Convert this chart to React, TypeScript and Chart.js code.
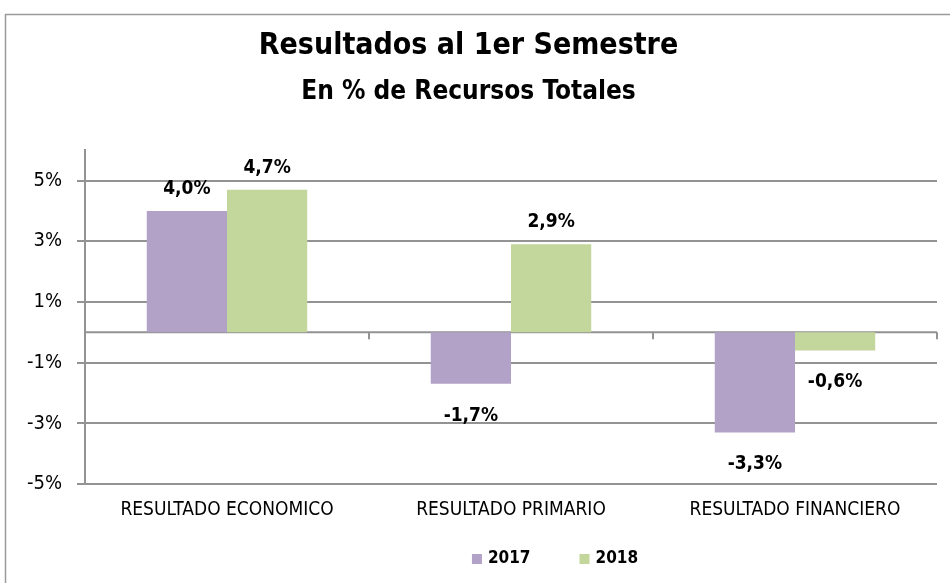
import React, { useEffect, useRef } from "react";
import { Chart, registerables } from "chart.js";

Chart.register(...registerables);

const categories = ["RESULTADO ECONOMICO", "RESULTADO PRIMARIO", "RESULTADO FINANCIERO"];
const seriesNames = ["2017", "2018"];
const values2017 = [4.0, -1.7, -3.3];
const values2018 = [4.7, 2.9, -0.6];
const tickValues = [-5, -3, -1, 1, 3, 5];
const titleText = "Resultados al 1er Semestre";
const subtitleText = "En % de Recursos Totales";

const FONT = "'Liberation Sans Narrow', 'DejaVu Sans Condensed', 'Open Sans', sans-serif";
const COLORS = ["#b3a2c7", "#c3d69b"];
const GRID = "#939393";

const fmt = (v: number) => v.toFixed(1).replace(".", ",") + "%";

export default function App() {
  const ref = useRef<HTMLCanvasElement | null>(null);
  useEffect(() => {
    document.body.style.margin = "0";
    const canvas = ref.current!;
    const framePlugin = {
      id: "frame",
      beforeDraw(chart: any) {
        const ctx = chart.ctx;
        ctx.save();
        ctx.fillStyle = "#ffffff";
        ctx.fillRect(0, 0, chart.width, chart.height);
        ctx.strokeStyle = "#9a9a9a";
        ctx.lineWidth = 1.5;
        ctx.strokeRect(5.5, 14.5, chart.width + 20, chart.height + 20);
        ctx.restore();
      },
    };
    const zeroPlugin = {
      id: "zero",
      beforeDatasetsDraw(chart: any) {
        const ctx = chart.ctx;
        const y = chart.scales.y.getPixelForValue(0);
        const { left, right } = chart.chartArea;
        ctx.save();
        ctx.strokeStyle = GRID;
        ctx.lineWidth = 2;
        ctx.beginPath();
        ctx.moveTo(left, y);
        ctx.lineTo(right, y);
        const n = categories.length;
        for (let i = 1; i <= n; i++) {
          const x = left + ((right - left) * i) / n;
          ctx.moveTo(x, y);
          ctx.lineTo(x, y + 7);
        }
        ctx.stroke();
        ctx.restore();
      },
    };
    const labelPlugin = {
      id: "labels",
      afterDatasetsDraw(chart: any) {
        const ctx = chart.ctx;
        ctx.save();
        ctx.font = `bold 19px ${FONT}`;
        ctx.fillStyle = "#000";
        ctx.textAlign = "center";
        ctx.textBaseline = "middle";
        chart.data.datasets.forEach((ds: any, di: number) => {
          const meta = chart.getDatasetMeta(di);
          meta.data.forEach((el: any, i: number) => {
            const v = ds.data[i];
            const y = v >= 0 ? el.y - 22 : el.y + 32;
            ctx.fillText(fmt(v), el.x, y);
          });
        });
        ctx.restore();
      },
    };
    const legendPlugin = {
      id: "customLegend",
      afterDraw(chart: any) {
        const ctx = chart.ctx;
        ctx.save();
        ctx.font = `bold 17px ${FONT}`;
        ctx.textBaseline = "middle";
        ctx.textAlign = "left";
        const box = 10;
        const gap = 6;
        const spacing = 49;
        const ds = chart.data.datasets;
        const widths = ds.map((d: any) => box + gap + ctx.measureText(d.label).width);
        const total = widths.reduce((a: number, b: number) => a + b, 0) + spacing * (ds.length - 1);
        let x = 555 - total / 2;
        const y = 559;
        ds.forEach((d: any, i: number) => {
          ctx.fillStyle = d.backgroundColor;
          ctx.fillRect(x, y - box / 2, box, box);
          ctx.fillStyle = "#000";
          ctx.fillText(d.label, x + box + gap, y);
          x += widths[i] + spacing;
        });
        ctx.restore();
      },
    };
    const chart = new Chart(canvas, {
      type: "bar",
      data: {
        labels: categories,
        datasets: [
          { label: seriesNames[0], data: values2017, backgroundColor: COLORS[0] },
          { label: seriesNames[1], data: values2018, backgroundColor: COLORS[1] },
        ],
      },
      options: {
        responsive: false,
        animation: false,
        devicePixelRatio: 1,
        layout: { padding: { left: 0, right: 13, top: 0, bottom: 40 } },
        datasets: { bar: { categoryPercentage: 0.565, barPercentage: 1.0 } } as any,
        plugins: {
          legend: { display: false },
          tooltip: { enabled: false },
          title: {
            display: true,
            text: titleText,
            color: "#000",
            font: { family: FONT, size: 30, weight: "bold", lineHeight: 1.2 },
            padding: { top: 28, bottom: 0 },
          },
          subtitle: {
            display: true,
            text: subtitleText,
            color: "#000",
            font: { family: FONT, size: 26, weight: "bold", lineHeight: 1.2 },
            padding: { top: 13, bottom: 42 },
          },
        },
        scales: {
          x: {
            grid: { display: false, drawTicks: false },
            border: { display: false },
            ticks: { color: "#000", font: { family: FONT, size: 19 }, padding: 15, maxRotation: 0 },
            afterFit(scale: any) {
              scale.height = 59;
            },
          },
          y: {
            min: -5,
            max: 6,
            afterBuildTicks(scale: any) {
              scale.ticks = tickValues.map((v) => ({ value: v }));
            },
            grid: { color: GRID, lineWidth: 2, tickLength: 8, tickColor: GRID },
            border: { display: true, color: GRID, width: 2 },
            ticks: {
              color: "#000",
              font: { family: FONT, size: 20 },
              padding: 15,
              callback: (v: any) => `${v}%`,
            },
            afterFit(scale: any) {
              scale.width = 85;
            },
          },
        },
      },
      plugins: [framePlugin, zeroPlugin, labelPlugin, legendPlugin],
    });
    return () => chart.destroy();
  }, []);
  return (
    <div style={{ position: "absolute", left: 0, top: 0, width: 950, height: 583 }}>
      <canvas ref={ref} width={950} height={583} style={{ width: 950, height: 583 }} />
    </div>
  );
}
